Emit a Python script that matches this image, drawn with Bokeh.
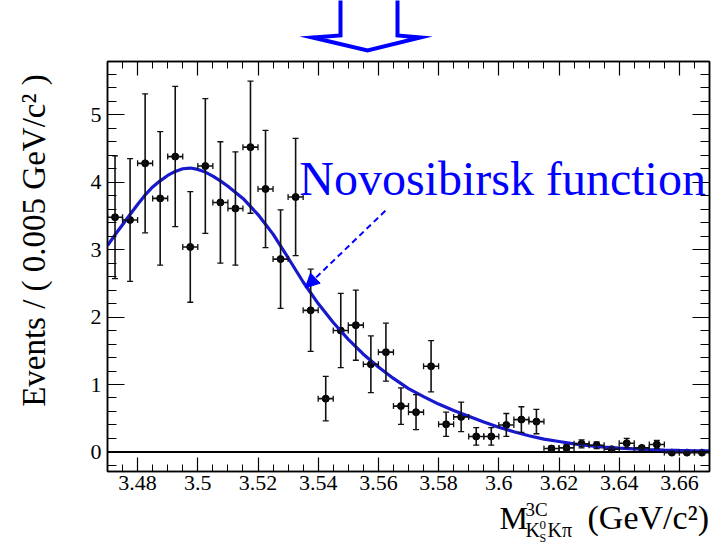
import math
from bokeh.plotting import figure
from bokeh.layouts import column, row
from bokeh.models import (ColumnDataSource, Whisker, TeeHead, FixedTicker, LinearAxis, Span,
                          Label, Arrow, NormalHead, CustomJSTickFormatter, Range1d)
from bokeh.embed import file_html
from bokeh.resources import INLINE

# ---- data ----
bin_centers = [3.4725, 3.4775, 3.4825, 3.4875, 3.4925, 3.4975, 3.5025, 3.5075, 3.5125, 3.5175,
               3.5225, 3.5275, 3.5325, 3.5375, 3.5425, 3.5475, 3.5525, 3.5575, 3.5625, 3.5675,
               3.5725, 3.5775, 3.5825, 3.5875, 3.5925, 3.5975, 3.6025, 3.6075, 3.6125, 3.6175,
               3.6225, 3.6275, 3.6325, 3.6375, 3.6425, 3.6475, 3.6525, 3.6575, 3.6625, 3.6675]
events = [3.48, 3.44, 4.28, 3.76, 4.38, 3.04, 4.24, 3.70, 3.61, 4.52,
          3.90, 2.86, 3.78, 2.10, 0.79, 1.80, 1.88, 1.30, 1.48, 0.68,
          0.59, 1.27, 0.41, 0.52, 0.23, 0.23, 0.40, 0.48, 0.45, 0.05,
          0.06, 0.12, 0.10, 0.04, 0.13, 0.06, 0.11, -0.01, -0.01, -0.01]
errors = [0.91, 0.91, 1.03, 0.99, 1.04, 0.82, 1.00, 0.90, 0.84, 0.98,
          0.87, 0.73, 0.87, 0.61, 0.33, 0.55, 0.52, 0.42, 0.43, 0.27,
          0.26, 0.38, 0.18, 0.22, 0.13, 0.13, 0.17, 0.19, 0.18, 0.04,
          0.05, 0.06, 0.05, 0.03, 0.07, 0.03, 0.06, 0.02, 0.02, 0.02]
bin_half_width = 0.0025

curve_x = [3.470, 3.4725, 3.475, 3.4775, 3.480, 3.4825, 3.485, 3.4875, 3.490, 3.4925,
           3.495, 3.4975, 3.500, 3.5025, 3.505, 3.5075, 3.510, 3.515,
           3.520, 3.525, 3.530, 3.535, 3.540, 3.545, 3.550, 3.555, 3.560, 3.565,
           3.570, 3.575, 3.580, 3.585, 3.590, 3.595, 3.600, 3.605, 3.610, 3.615,
           3.620, 3.625, 3.630, 3.635, 3.640, 3.645, 3.650, 3.655, 3.660, 3.665, 3.670]
curve_y = [3.06, 3.22, 3.37, 3.52, 3.67, 3.81, 3.93, 4.02, 4.10, 4.16,
           4.20, 4.21, 4.19, 4.15, 4.09, 4.02, 3.94, 3.76,
           3.52, 3.23, 2.88, 2.52, 2.20, 1.92, 1.67, 1.45, 1.26, 1.09,
           0.94, 0.82, 0.71, 0.615, 0.53, 0.445, 0.365, 0.30, 0.24, 0.19,
           0.155, 0.12, 0.092, 0.072, 0.057, 0.046, 0.036, 0.029, 0.023, 0.018, 0.015]

x_ticks = [3.48, 3.50, 3.52, 3.54, 3.56, 3.58, 3.60, 3.62, 3.64, 3.66]
x_tick_labels = ["3.48", "3.5", "3.52", "3.54", "3.56", "3.58", "3.6", "3.62", "3.64", "3.66"]
y_ticks = [0, 1, 2, 3, 4, 5]
y_tick_labels = ["0", "1", "2", "3", "4", "5"]

SERIF = "Liberation Serif"
BLUE = "#0000ff"
CURVE = "#1818cc"
BAR = "#111111"
BASE_SHIFT = 0.3375   # measured offset (in em) of rendered baselines

# page geometry (pixels from the top-left of the page)
W, H = 719, 548
TOP_H = 56          # strip with the big hollow arrow
BOTTOM_Y = 500      # where the x-title strip starts
LEFT_W = 66         # strip with the y title


def bare_fig(w, h):
    f = figure(width=w, height=h, x_range=Range1d(0, w), y_range=Range1d(0, h),
               output_backend="svg", toolbar_location=None,
               x_axis_location=None, y_axis_location=None, min_border=0)
    f.xgrid.visible = False
    f.ygrid.visible = False
    f.outline_line_color = None
    f.background_fill_color = "white"
    f.border_fill_color = "white"
    return f


# ---------------- top strip: hollow arrow ----------------
top = bare_fig(W, TOP_H)
ax_px = [340, 340, 312, 367, 420, 397, 397]
ay_px = [-6, 35, 37, 50, 37, 35, -6]
top.line(ax_px, [TOP_H - v for v in ay_px], line_color=BLUE, line_width=4, line_join="miter")

# ---------------- left strip: y title ----------------
mid_h = BOTTOM_Y - TOP_H
left = bare_fig(LEFT_W, mid_h)
yt_size = 33
left.add_layout(Label(x=45 - BASE_SHIFT * yt_size, y=BOTTOM_Y - 430,
                      text="Events / ( 0.005 GeV/c\u00b2 )", angle=math.pi / 2,
                      text_font=SERIF, text_font_size=f"{yt_size}px", text_color="black",
                      text_baseline="alphabetic", text_align="left"))

# ---------------- main plot ----------------
src = ColumnDataSource(dict(
    x=bin_centers, y=events,
    lo=[v - e for v, e in zip(events, errors)],
    hi=[v + e for v, e in zip(events, errors)],
    xlo=[c - bin_half_width for c in bin_centers],
    xhi=[c + bin_half_width for c in bin_centers],
))

p = figure(width=W - LEFT_W, height=mid_h, x_range=Range1d(3.47, 3.67), y_range=Range1d(-0.29, 5.79),
           output_backend="svg", toolbar_location=None,
           min_border_left=107 - LEFT_W, min_border_right=W - 709,
           min_border_top=61 - TOP_H, min_border_bottom=BOTTOM_Y - 471)
p.xgrid.visible = False
p.ygrid.visible = False
p.outline_line_color = "black"
p.outline_line_width = 1.5
p.background_fill_color = "white"
p.border_fill_color = "white"

x_minor = [round(3.47 + 0.005 * i, 4) for i in range(41)]
y_minor = [round(-0.2 + 0.2 * i, 2) for i in range(30)]


def style_axis(ax, ticker, tin, tmin, labels=None):
    ax.ticker = ticker
    ax.major_tick_in = tin
    ax.major_tick_out = 0
    ax.minor_tick_in = tmin
    ax.minor_tick_out = 0
    ax.axis_line_color = "black"
    ax.axis_line_width = 1.5
    ax.major_tick_line_color = "black"
    ax.minor_tick_line_color = "black"
    ax.major_tick_line_width = 1.2
    ax.minor_tick_line_width = 1.0
    if labels is None:
        ax.formatter = CustomJSTickFormatter(code="return ''")
        ax.major_label_text_font_size = "0px"
        ax.major_label_standoff = 0
    else:
        ax.major_label_overrides = labels
        ax.major_label_text_font = SERIF
        ax.major_label_text_font_size = "22px"
        ax.major_label_text_color = "black"


style_axis(p.xaxis[0], FixedTicker(ticks=x_ticks, minor_ticks=x_minor), 14, 7,
           {t: l for t, l in zip(x_ticks, x_tick_labels)})
p.xaxis[0].major_label_standoff = 4
style_axis(p.yaxis[0], FixedTicker(ticks=y_ticks, minor_ticks=y_minor), 17, 9,
           {t: l for t, l in zip(y_ticks, y_tick_labels)})
p.yaxis[0].major_label_standoff = 6

top_ax = LinearAxis()
style_axis(top_ax, FixedTicker(ticks=x_ticks, minor_ticks=x_minor), 14, 7)
p.add_layout(top_ax, "above")
right_ax = LinearAxis()
style_axis(right_ax, FixedTicker(ticks=y_ticks, minor_ticks=y_minor), 17, 9)
p.add_layout(right_ax, "right")

# zero line
p.add_layout(Span(location=0, dimension="width", line_color="black", line_width=2, level="underlay"))

# error bars
head = dict(size=6, line_color=BAR, line_width=1.3)
p.add_layout(Whisker(source=src, base="x", lower="lo", upper="hi", dimension="height",
                     line_color=BAR, line_width=1.6, level="glyph",
                     upper_head=TeeHead(**head), lower_head=TeeHead(**head)))
p.add_layout(Whisker(source=src, base="y", lower="xlo", upper="xhi", dimension="width",
                     line_color=BAR, line_width=1.6, level="glyph",
                     upper_head=TeeHead(**head), lower_head=TeeHead(**head)))
p.scatter("x", "y", source=src, size=7, color="black")

# fit curve
p.line(curve_x, curve_y, line_color=CURVE, line_width=3.2)

# annotation text and dashed arrow
PX_PER_Y = 410 / 6.08
nov_size = 48
p.add_layout(Label(x=3.5337, y=(451 - (194 - BASE_SHIFT * nov_size)) / PX_PER_Y,
                   text="Novosibirsk function", text_font=SERIF,
                   text_font_size=f"{nov_size}px", text_color=BLUE, text_baseline="alphabetic"))
p.add_layout(Arrow(x_start=3.5623, y_start=3.576, x_end=3.5357, y_end=2.433,
                   line_color=BLUE, line_width=2, line_dash="6 4",
                   end=NormalHead(size=14, fill_color=BLUE, line_color=BLUE)))

# ---------------- bottom strip: x title ----------------
bot_h = H - BOTTOM_Y
bot = bare_fig(W, bot_h)


def lab(px, py, t, size):
    bot.add_layout(Label(x=px, y=H - (py - BASE_SHIFT * size), text=t, text_font=SERIF,
                         text_font_size=f"{size}px", text_color="black",
                         text_baseline="alphabetic", text_align="left"))


lab(499, 528, "M", 32)
lab(525, 515, "3C", 19)
lab(525, 536, "K", 20)
lab(539, 529, "0", 13)
lab(539, 542, "S", 12)
lab(547, 536, "K\u03c0", 20)
lab(587, 528, "(GeV/c\u00b2)", 34)

layout = column(top, row(left, p), bot)
open("out.html", "w").write(file_html(layout, INLINE))
